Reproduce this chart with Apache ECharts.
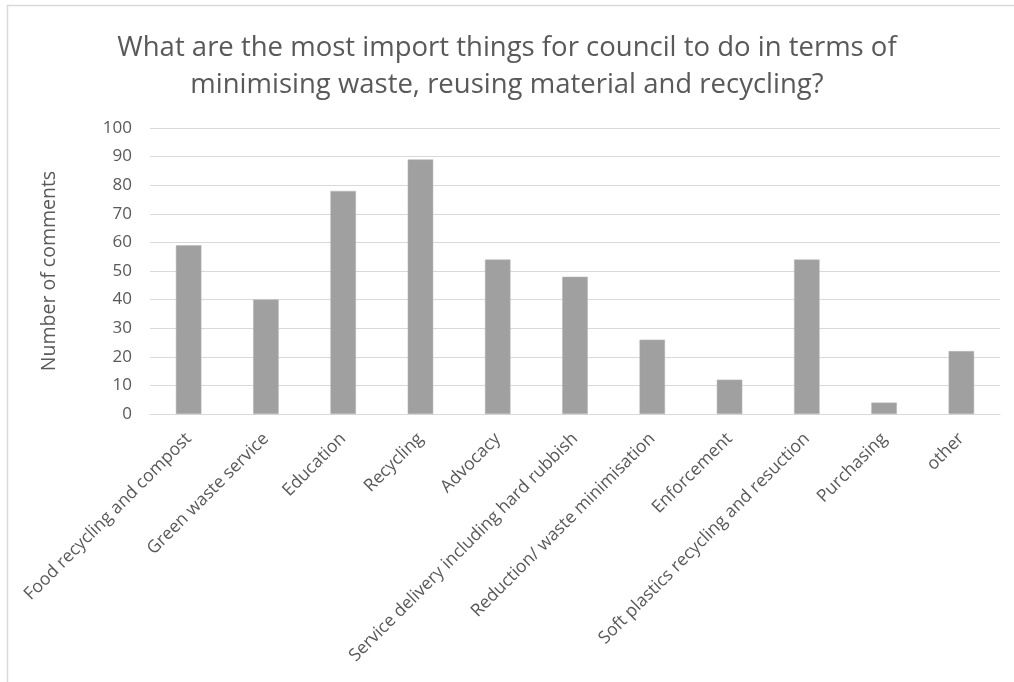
<!DOCTYPE html>
<html>
<head>
<meta charset="utf-8">
<script src="https://cdn.jsdelivr.net/npm/echarts@6/dist/echarts.min.js"></script>
<style>html,body{margin:0;padding:0;background:#fff;}#c{width:1014px;height:682px;}</style>
</head>
<body>
<div id="c"></div>
<script>
const titleText = 'What are the most import things for council to do in terms of\nminimising waste, reusing material and recycling?';
const yAxisName = 'Number of comments';
const categories = ['Food recycling and compost','Green waste service','Education','Recycling','Advocacy','Service delivery including hard rubbish','Reduction/ waste minimisation','Enforcement','Soft plastics recycling and resuction','Purchasing','other'];
const values = [59, 40, 78, 89, 54, 48, 26, 12, 54, 4, 22];
const yTicks = {min: 0, max: 100, interval: 10};

const chart = echarts.init(document.getElementById('c'));
const FONT = 'Open Sans';
chart.setOption({
  animation: false,
  backgroundColor: '#fff',
  graphic: [{
    type: 'rect', shape: {x: 7.5, y: 5.5, width: 1020, height: 700},
    style: {fill: 'none', stroke: '#d9d9d9', lineWidth: 1.5}, silent: true
  }],
  title: {
    text: titleText, left: 'center', top: 25,
    textStyle: {fontFamily: FONT, fontSize: 27.5, fontWeight: 'normal', color: '#595959', lineHeight: 37}
  },
  grid: {left: 150, right: 14, top: 128, bottom: 268, containLabel: false},
  xAxis: {
    type: 'category', data: categories,
    axisLine: {show: true, lineStyle: {color: '#d9d9d9', width: 1}},
    axisTick: {show: false},
    axisLabel: {rotate: 45, interval: 0, fontFamily: FONT, fontSize: 17.5, color: '#595959', margin: 22}
  },
  yAxis: {
    type: 'value', min: yTicks.min, max: yTicks.max, interval: yTicks.interval,
    name: yAxisName, nameLocation: 'middle', nameGap: 91,
    nameTextStyle: {fontFamily: FONT, fontSize: 19.5, color: '#595959'},
    axisLine: {show: false}, axisTick: {show: false},
    axisLabel: {fontFamily: FONT, fontSize: 17, color: '#595959', margin: 18},
    splitLine: {lineStyle: {color: '#d9d9d9', width: 1}}
  },
  series: [{
    type: 'bar', data: values, barWidth: '33%',
    itemStyle: {color: '#a0a0a0', borderColor: '#b4b4b4', borderWidth: 0.5}
  }]
});
</script>
</body>
</html>
